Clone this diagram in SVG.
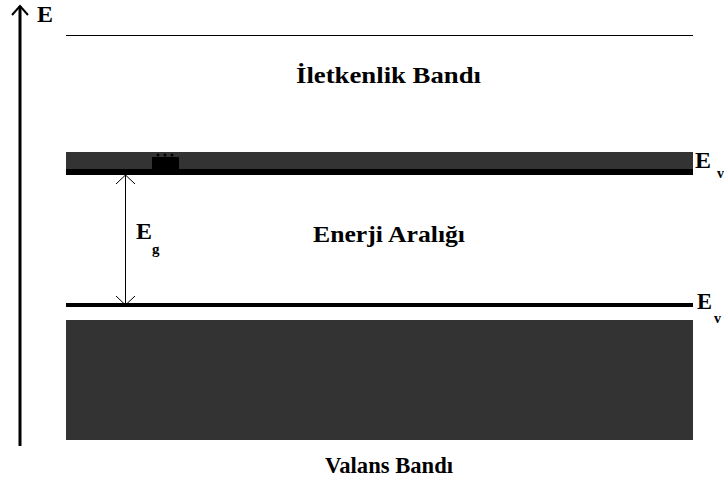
<svg xmlns="http://www.w3.org/2000/svg" width="724" height="483" viewBox="0 0 724 483">
  <style>
    .lbl { font-family: "Liberation Serif", "Times New Roman", serif; font-weight: bold; fill: #000; }
    .band { fill: #333333; }
    .thin { stroke: #000; stroke-width: 1; fill: none; }
    .head { stroke: #000; stroke-width: 1; fill: none; }
  </style>
  <rect width="724" height="483" fill="#ffffff"/>

  <!-- energy axis -->
  <g id="axis">
    <line x1="20" y1="6" x2="20" y2="446" stroke="#000" stroke-width="3"/>
    <polyline points="12,15 20,6 28,15" fill="none" stroke="#000" stroke-width="2"/>
    <text class="lbl" x="37" y="22" font-size="24" textLength="16" lengthAdjust="spacingAndGlyphs">E</text>
  </g>

  <!-- conduction band (top edge line) -->
  <g id="conduction-band">
    <line class="thin" x1="66" y1="35.5" x2="693" y2="35.5"/>
    <text class="lbl" x="296" y="83" font-size="24" textLength="185" lengthAdjust="spacingAndGlyphs">İletkenlik Bandı</text>
  </g>

  <!-- conduction edge level -->
  <g id="ec-level">
    <rect class="band" x="66" y="152" width="627" height="17"/>
    <rect x="66" y="169" width="627" height="6" fill="#000"/>
    <rect x="152" y="157" width="27" height="12" fill="#000"/>
    <circle cx="158" cy="155" r="1.5" fill="#000"/>
    <circle cx="165" cy="155" r="1.5" fill="#000"/>
    <circle cx="172" cy="155" r="1.5" fill="#000"/>
    <text class="lbl" x="695" y="168" font-size="24" textLength="16" lengthAdjust="spacingAndGlyphs">E</text>
    <text class="lbl" x="717" y="178" font-size="14">v</text>
  </g>

  <!-- band gap -->
  <g id="gap">
    <text class="lbl" x="313" y="242" font-size="24" textLength="152" lengthAdjust="spacingAndGlyphs">Enerji Aralığı</text>
  </g>

  <!-- valence edge level -->
  <g id="ev-level">
    <rect x="66" y="303" width="627" height="4" fill="#000"/>
    <text class="lbl" x="697" y="309" font-size="24" textLength="15" lengthAdjust="spacingAndGlyphs">E</text>
    <text class="lbl" x="714" y="323" font-size="14">v</text>
  </g>

  <!-- valence band -->
  <g id="valence-band">
    <rect class="band" x="66" y="320" width="627" height="120"/>
    <text class="lbl" x="325" y="473" font-size="24" textLength="128" lengthAdjust="spacingAndGlyphs">Valans Bandı</text>
  </g>

  <!-- gap width marker -->
  <g id="connectors">
    <line class="thin" x1="125.5" y1="175" x2="125.5" y2="304"/>
    <polyline class="head" points="116,184 125.5,175 135,184"/>
    <polyline class="head" points="116,296 125.5,305 135,296"/>
  </g>
  <g id="eg-label">
    <text class="lbl" x="136" y="239" font-size="24" textLength="16" lengthAdjust="spacingAndGlyphs">E</text>
    <text class="lbl" x="152" y="254" font-size="15">g</text>
  </g>
</svg>
